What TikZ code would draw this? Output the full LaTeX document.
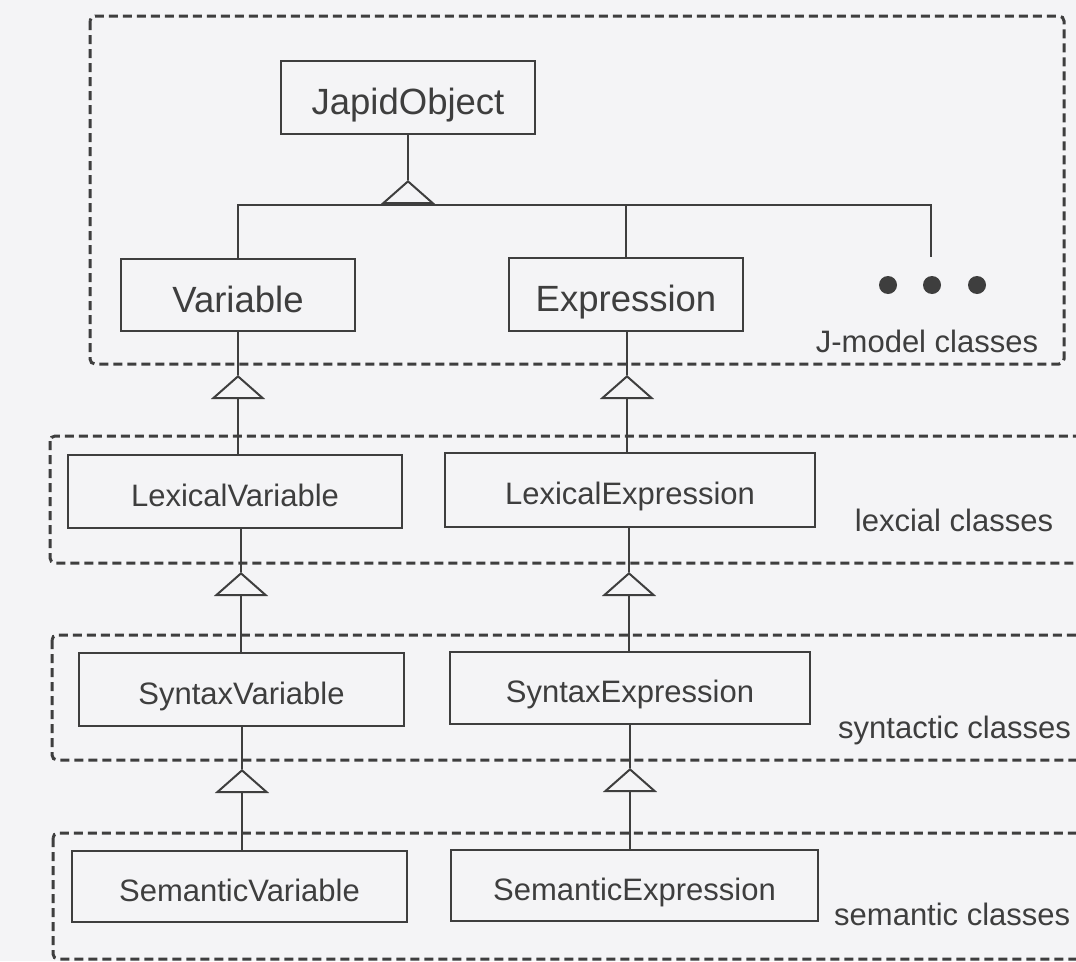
\documentclass[tikz,border=0pt]{standalone}
\usepackage{fontspec}
\setmainfont{Liberation Sans}
\usetikzlibrary{arrows.meta}
\definecolor{ink}{RGB}{62,62,62}
\definecolor{paper}{RGB}{244,244,246}
\begin{document}
\begin{tikzpicture}[x=1pt,y=-1pt,
  bigcls/.style={draw=ink, line width=2pt, text=ink, inner sep=0pt,
    font=\fontsize{36.5}{40}\selectfont, text height=34pt, text depth=0pt},
  smallcls/.style={draw=ink, line width=2pt, text=ink, inner sep=0pt,
    font=\fontsize{31}{36}\selectfont, text height=29pt, text depth=0pt},
  group/.style={draw=ink, line width=3pt, dash pattern=on 9pt off 5pt, rounded corners=5pt},
  lbl/.style={text=ink, inner sep=0pt, font=\fontsize{31}{36}\selectfont},
  link/.style={draw=ink, line width=2pt},
  inherit/.style={draw=ink, line width=2pt, -{Triangle[open, length=24pt, width=54pt]}},
  dot/.style={circle, fill=ink, inner sep=0pt, minimum size=18pt}
]
\useasboundingbox (0,0) rectangle (1076,961);
\fill[paper] (0,0) rectangle (1076,961);
\clip (0,0) rectangle (1076,961);

% package groups
\draw[group] (90,16) rectangle (1064,364);
\draw[group] (50,436) rectangle (1110,563);
\draw[group] (52,635) rectangle (1110,760);
\draw[group] (53,833) rectangle (1110,959);

% classes
\node[bigcls, minimum width=254pt, minimum height=73pt] (japid) at (408,97.5) {JapidObject};
\node[bigcls, minimum width=234pt, minimum height=72pt] (var) at (238,295) {Variable};
\node[bigcls, minimum width=234pt, minimum height=73pt] (expr) at (626,294.5) {Expression};
\node[smallcls, minimum width=334pt, minimum height=73pt] (lexvar) at (235,491.5) {LexicalVariable};
\node[smallcls, minimum width=370pt, minimum height=74pt] (lexexpr) at (630,490) {LexicalExpression};
\node[smallcls, minimum width=325pt, minimum height=73pt] (synvar) at (241.5,689.5) {SyntaxVariable};
\node[smallcls, minimum width=360pt, minimum height=72pt] (synexpr) at (630,688) {SyntaxExpression};
\node[smallcls, minimum width=335pt, minimum height=71pt] (semvar) at (239.5,886.5) {SemanticVariable};
\node[smallcls, minimum width=367pt, minimum height=71pt] (semexpr) at (634.5,885.5) {SemanticExpression};

% further J-model classes
\node[dot] (d1) at (888,285) {};
\node[dot] (d2) at (932,285) {};
\node[dot] (d3) at (977,285) {};

% group labels
\node[lbl, anchor=base] (jlab) at (927,352) {J-model classes};
\node[lbl, anchor=base] (lexlab) at (954,531) {lexcial classes};
\node[lbl, anchor=base] (synlab) at (954.5,738) {syntactic classes};
\node[lbl, anchor=base west] (semlab) at (834,925) {semantic classes};

% generalisation of the J-model classes
\coordinate (t0) at (408,180);
\coordinate (busJ) at (408,205);
\coordinate (busR) at (931,205);
\coordinate (more) at (931,257);
\draw[link] (japid.south) -- (t0);
\draw[inherit] (busJ) -- (t0);
\draw[link] (var.north) |- (busR) -- (more);
\draw[link] (expr.north) -- (expr.north |- busR);

% lexical -> J-model
\coordinate (a1) at (238,375);
\coordinate (a2) at (627,375);
\draw[link] (var.south) -- (a1);
\draw[inherit] (lexvar.north -| a1) -- (a1);
\draw[link] (expr.south -| a2) -- (a2);
\draw[inherit] (lexexpr.north -| a2) -- (a2);

% syntactic -> lexical
\coordinate (a3) at (241,572);
\coordinate (a4) at (629,572);
\draw[link] (lexvar.south -| a3) -- (a3);
\draw[inherit] (synvar.north -| a3) -- (a3);
\draw[link] (lexexpr.south -| a4) -- (a4);
\draw[inherit] (synexpr.north -| a4) -- (a4);

% semantic -> syntactic
\coordinate (a5) at (242,769);
\coordinate (a6) at (630,768);
\draw[link] (synvar.south -| a5) -- (a5);
\draw[inherit] (semvar.north -| a5) -- (a5);
\draw[link] (synexpr.south -| a6) -- (a6);
\draw[inherit] (semexpr.north -| a6) -- (a6);
\end{tikzpicture}
\end{document}
